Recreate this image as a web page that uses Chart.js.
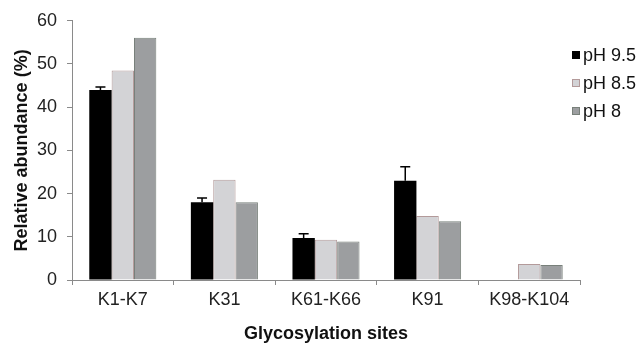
<!DOCTYPE html>
<html>
<head>
<meta charset="utf-8">
<script src="https://cdn.jsdelivr.net/npm/chart.js@4"></script>
<style>
  html, body { margin: 0; padding: 0; background: #fff; }
  #wrap { width: 641px; height: 345px; }
</style>
</head>
<body>
<div id="wrap"><canvas id="myChart" width="641" height="345"></canvas></div>
<script>
// data
const sites = ['K1-K7', 'K31', 'K61-K66', 'K91', 'K98-K104'];
const seriesNames = ['pH 9.5', 'pH 8.5', 'pH 8'];
const ph95 = [44.0, 18.0, 9.7, 23.0, null];
const ph85 = [48.5, 23.2, 9.3, 14.8, 3.7];
const ph80 = [56.1, 18.0, 8.9, 13.6, 3.5];
const ph95Err = [0.7, 1.0, 1.0, 3.2, 0];
const yTicks = [0, 10, 20, 30, 40, 50, 60];

const FONT = '"Liberation Sans", Arial, sans-serif';
const axisGrey = '#8a8a8a';

// half error bars (upward only) on the pH 9.5 bars
const errorBars = {
    id: 'errorBars',
    afterDatasetsDraw(chart) {
        const ctx = chart.ctx;
        const y = chart.scales.y;
        const meta = chart.getDatasetMeta(0);
        ctx.save();
        ctx.strokeStyle = '#000';
        ctx.lineWidth = 1.5;
        meta.data.forEach((bar, i) => {
            if (ph95[i] == null || !ph95Err[i]) return;
            const top = y.getPixelForValue(ph95[i] + ph95Err[i]);
            ctx.beginPath();
            ctx.moveTo(bar.x, bar.y);
            ctx.lineTo(bar.x, top);
            ctx.moveTo(bar.x - 5, top);
            ctx.lineTo(bar.x + 5, top);
            ctx.stroke();
        });
        ctx.restore();
    }
};

// legend at the right, drawn from the datasets
const sideLegend = {
    id: 'sideLegend',
    afterDraw(chart) {
        const ctx = chart.ctx;
        const x0 = chart.chartArea.right - 8;
        ctx.save();
        ctx.font = '18px ' + FONT;
        ctx.textBaseline = 'middle';
        chart.data.datasets.forEach((ds, i) => {
            const cy = 55 + i * 28;
            ctx.fillStyle = ds.backgroundColor;
            ctx.fillRect(x0, cy - 4, 8, 8);
            ctx.strokeStyle = ds.borderColor;
            ctx.lineWidth = 1;
            ctx.strokeRect(x0 + 0.5, cy - 3.5, 7, 7);
            ctx.fillStyle = '#111';
            ctx.fillText(ds.label, x0 + 11, cy + 1);
        });
        ctx.restore();
    }
};

const ctx = document.getElementById('myChart').getContext('2d');
const myChart = new Chart(ctx, {
    type: 'bar',
    data: {
        labels: sites,
        datasets: [
            { label: seriesNames[0], data: ph95, backgroundColor: '#000000', borderColor: '#000000', borderWidth: 0 },
            { label: seriesNames[1], data: ph85, backgroundColor: '#d3d3d6', borderColor: '#b39a9a', borderWidth: 1 },
            { label: seriesNames[2], data: ph80, backgroundColor: '#9c9ea0', borderColor: '#78807a', borderWidth: 1 }
        ]
    },
    options: {
        responsive: false,
        animation: false,
        devicePixelRatio: 1,
        categoryPercentage: 0.66,
        barPercentage: 1.0,
        layout: { padding: { left: 0, right: 61, top: 19, bottom: 0 } },
        plugins: {
            legend: { display: false },
            tooltip: { enabled: false }
        },
        scales: {
            x: {
                grid: { display: true, drawOnChartArea: false, offset: true, color: axisGrey, tickLength: 5 },
                border: { color: axisGrey },
                ticks: { color: '#222', font: { family: FONT, size: 18 }, padding: 4, maxRotation: 0 },
                title: { display: true, text: 'Glycosylation sites', color: '#111',
                         font: { family: FONT, size: 18, weight: 'bold' }, padding: { top: 0, bottom: 0 } },
                afterFit(s) { s.height = 65; }
            },
            y: {
                min: 0,
                max: 60,
                afterBuildTicks(s) { s.ticks = yTicks.map(v => ({ value: v })); },
                grid: { display: true, drawOnChartArea: false, color: axisGrey, tickLength: 5 },
                border: { color: axisGrey },
                ticks: { color: '#222', font: { family: FONT, size: 18 }, padding: 10 },
                title: { display: true, text: 'Relative abundance (%)', color: '#111',
                         font: { family: FONT, size: 18, weight: 'bold' }, padding: { top: 11, bottom: 0 } },
                afterFit(s) { s.width = 72; }
            }
        }
    },
    plugins: [errorBars, sideLegend]
});
</script>
</body>
</html>
